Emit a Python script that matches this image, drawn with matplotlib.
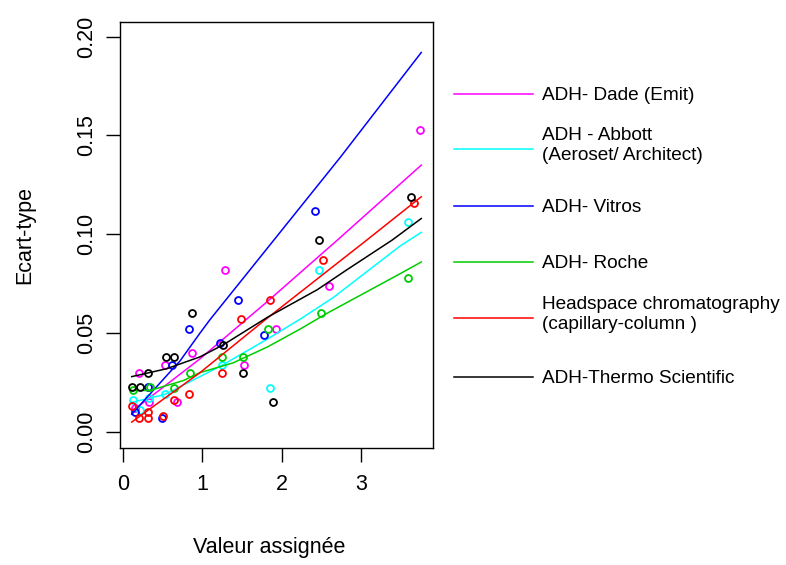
import numpy as np
import matplotlib.pyplot as plt
from matplotlib.lines import Line2D

plt.rcParams['font.family'] = ['Liberation Sans', 'DejaVu Sans']

# points per method (assigned value, standard deviation)
dade_x = [0.15, 0.20, 0.33, 0.53, 0.68, 0.87, 1.29, 1.53, 1.93, 2.60, 3.74]
dade_y = [0.012, 0.030, 0.015, 0.034, 0.015, 0.040, 0.082, 0.034, 0.052, 0.074, 0.153]
abbott_x = [0.13, 0.22, 0.33, 0.53, 1.25, 1.85, 2.47, 3.59]
abbott_y = [0.016, 0.011, 0.017, 0.019, 0.034, 0.022, 0.082, 0.106]
vitros_x = [0.15, 0.32, 0.49, 0.62, 0.83, 1.22, 1.45, 1.78, 2.42]
vitros_y = [0.010, 0.023, 0.007, 0.034, 0.052, 0.045, 0.067, 0.049, 0.112]
roche_x = [0.12, 0.34, 0.64, 0.84, 1.25, 1.51, 1.83, 2.50, 3.59]
roche_y = [0.021, 0.023, 0.022, 0.030, 0.038, 0.038, 0.052, 0.060, 0.078]
head_x = [0.11, 0.20, 0.32, 0.32, 0.50, 0.64, 0.83, 1.25, 1.49, 1.85, 2.52, 3.67]
head_y = [0.013, 0.007, 0.007, 0.010, 0.008, 0.016, 0.019, 0.030, 0.057, 0.067, 0.087, 0.116]
thermo_x = [0.11, 0.22, 0.32, 0.54, 0.64, 0.87, 1.26, 1.51, 1.89, 2.47, 3.63]
thermo_y = [0.023, 0.023, 0.030, 0.038, 0.038, 0.060, 0.044, 0.030, 0.015, 0.097, 0.119]

# smoothed curves
dade_fx = [0.13, 0.97, 1.82, 2.70, 3.76]
dade_fy = [0.011, 0.037, 0.066, 0.097, 0.135]
abbott_fx = [0.11, 0.53, 0.97, 1.26, 1.82, 2.23, 2.65, 3.49, 3.76]
abbott_fy = [0.015, 0.019, 0.028, 0.034, 0.047, 0.057, 0.068, 0.094, 0.101]
vitros_fx = [0.11, 0.72, 0.97, 1.10, 1.90, 2.74, 3.76]
vitros_fy = [0.009, 0.036, 0.050, 0.057, 0.097, 0.139, 0.192]
roche_fx = [0.11, 0.34, 0.76, 0.97, 1.39, 1.82, 2.23, 2.57, 3.49, 3.76]
roche_fy = [0.021, 0.021, 0.026, 0.030, 0.035, 0.043, 0.052, 0.060, 0.080, 0.086]
head_fx = [0.11, 0.97, 1.80, 3.07, 3.76]
head_fy = [0.005, 0.030, 0.057, 0.097, 0.119]
thermo_fx = [0.11, 0.55, 0.97, 1.26, 1.82, 2.45, 2.82, 3.39, 3.76]
thermo_fy = [0.028, 0.032, 0.038, 0.044, 0.058, 0.072, 0.082, 0.097, 0.108]

labels = ["ADH- Dade (Emit)", "ADH - Abbott\n(Aeroset/ Architect)", "ADH- Vitros",
          "ADH- Roche", "Headspace chromatography\n(capillary-column )",
          "ADH-Thermo Scientific"]
colors = ["#ff00ff", "#00ffff", "#0000ff", "#00cd00", "#ff0000", "black"]

pts = [(dade_x, dade_y), (abbott_x, abbott_y), (vitros_x, vitros_y),
       (roche_x, roche_y), (head_x, head_y), (thermo_x, thermo_y)]
fits = [(dade_fx, dade_fy), (abbott_fx, abbott_fy), (vitros_fx, vitros_fy),
        (roche_fx, roche_fy), (head_fx, head_fy), (thermo_fx, thermo_fy)]

fig = plt.figure(figsize=(7.86, 5.65), dpi=100)
ax = fig.add_axes([0.1533, 0.2071, 0.3972, 0.7539])

for (px, py), (fx, fy), c in zip(pts, fits, colors):
    ax.plot(px, py, 'o', mfc='none', mec=c, ms=5, mew=1.3, linestyle='none')
    ax.plot(fx, fy, color=c, lw=1.1)

ax.set_xlim(-0.0315, 3.904)
ax.set_ylim(-0.0081, 0.2074)
ax.set_xticks([0, 1, 2, 3])
ax.set_yticks([0.00, 0.05, 0.10, 0.15, 0.20])
ax.set_yticklabels(["0.00", "0.05", "0.10", "0.15", "0.20"], rotation=90, va='center')
ax.tick_params(labelsize=15.5, length=10, width=1)
ax.tick_params(axis='x', pad=9)
ax.tick_params(axis='y', pad=6.5)
for s in ax.spines.values():
    s.set_linewidth(1)

fig.text(0.342, 1 - 548 / 565, "Valeur assignée", ha='center', va='center', fontsize=15.5)
fig.text(25 / 786, 0.584, "Ecart-type", ha='center', va='center', rotation=90, fontsize=15.5)

# legend outside the plot
leg_y = [94, 149, 206, 262, 318, 377]
for lab, c, yy in zip(labels, colors, leg_y):
    yf = 1 - yy / 565
    fig.add_artist(Line2D([454 / 786, 533 / 786], [yf, yf], color=c, lw=1.1))
    nl = lab.count("\n")
    fig.text(542 / 786, yf + (0.006 if nl else -0.003), lab, ha='left', va='center',
             fontsize=13.7, linespacing=1.2)

fig.savefig("out.png", dpi=100)
